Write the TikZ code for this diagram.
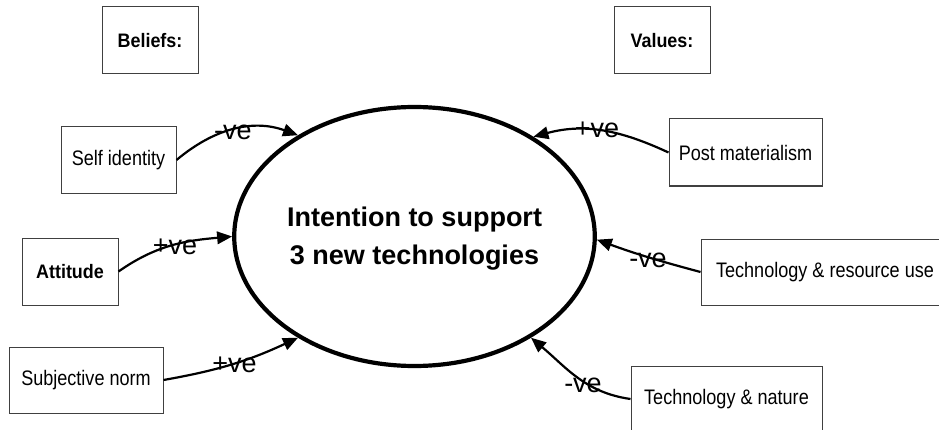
\documentclass[tikz,border=0pt]{standalone}
\usepackage{fontspec}
\setmainfont{Liberation Sans}
\newfontfamily\boxfont[FakeStretch=0.86]{Liberation Sans}
\newfontfamily\boxbold[FakeStretch=0.92]{Liberation Sans}
\usetikzlibrary{arrows.meta,shapes.geometric}
\begin{document}
\begin{tikzpicture}[x=1pt,y=1pt,
  factor/.style={draw=black!75, line width=1pt, inner sep=0pt,
    font=\boxfont\fontsize{21}{24}\selectfont},
  header/.style={draw=black!75, line width=1pt, inner sep=0pt,
    font=\boxbold\bfseries\fontsize{19.5}{22}\selectfont},
  link/.style={line width=2.2pt, -{Triangle[length=15pt,width=12.5pt]}},
  sign/.style={inner sep=0pt, font=\fontsize{27}{29}\selectfont}]
\useasboundingbox (0,0) rectangle (939,429);
\clip (0,0) rectangle (939,429);

% central construct
\node[ellipse, draw, line width=4.2pt, minimum width=336pt, minimum height=259pt,
  inner sep=0pt, align=center, font=\bfseries\fontsize{27}{38}\selectfont,
  text depth=1.5pt] (ell) at (414.5,192.5) {Intention to support\\3 new technologies};

% headers
\node[header, minimum width=96pt, minimum height=67pt] (beliefs) at (150,388.5) {Beliefs:};
\node[header, minimum width=96pt, minimum height=67pt] (values) at (662,388.5) {Values:};

% beliefs
\node[factor, minimum width=115pt, minimum height=66pt] (si) at (118.5,269) {Self identity};
\node[header, minimum width=96pt, minimum height=67pt] (att) at (70,157.5) {Attitude};
\node[factor, minimum width=154pt, minimum height=66pt] (sn) at (86,49) {Subjective norm};

% values
\node[factor, minimum width=153pt, minimum height=67pt] (pm) at (745.5,276.5) {Post materialism};
\node[factor, minimum width=248pt, minimum height=66pt] (tr) at (825,157) {Technology \& resource use};
\node[factor, minimum width=191pt, minimum height=66pt] (tn) at (726.5,30) {Technology \& nature};

% connectors
\draw[link] (si.east) to[out=40,in=160] (ell.139.6);
\draw[link] (att.east) to[out=35,in=185] (ell.180);
\draw[link] (sn.east) to[out=10,in=205] (ell.221.2);
\draw[link] (pm.west) to[out=155,in=15] (ell.40.8);
\draw[link] (tr.west) to[out=165,in=-20] (ell.359.5);
\draw[link] (tn.west) to[out=172,in=-40] (ell.319);

% signs
\node[sign] (s1) at (233,296.5) {-ve};
\node[sign] (s2) at (175,182.5) {+ve};
\node[sign] (s3) at (234.5,64) {+ve};
\node[sign] (s4) at (597,299.5) {+ve};
\node[sign] (s5) at (648,169) {-ve};
\node[sign] (s6) at (583,44) {-ve};
\end{tikzpicture}
\end{document}
